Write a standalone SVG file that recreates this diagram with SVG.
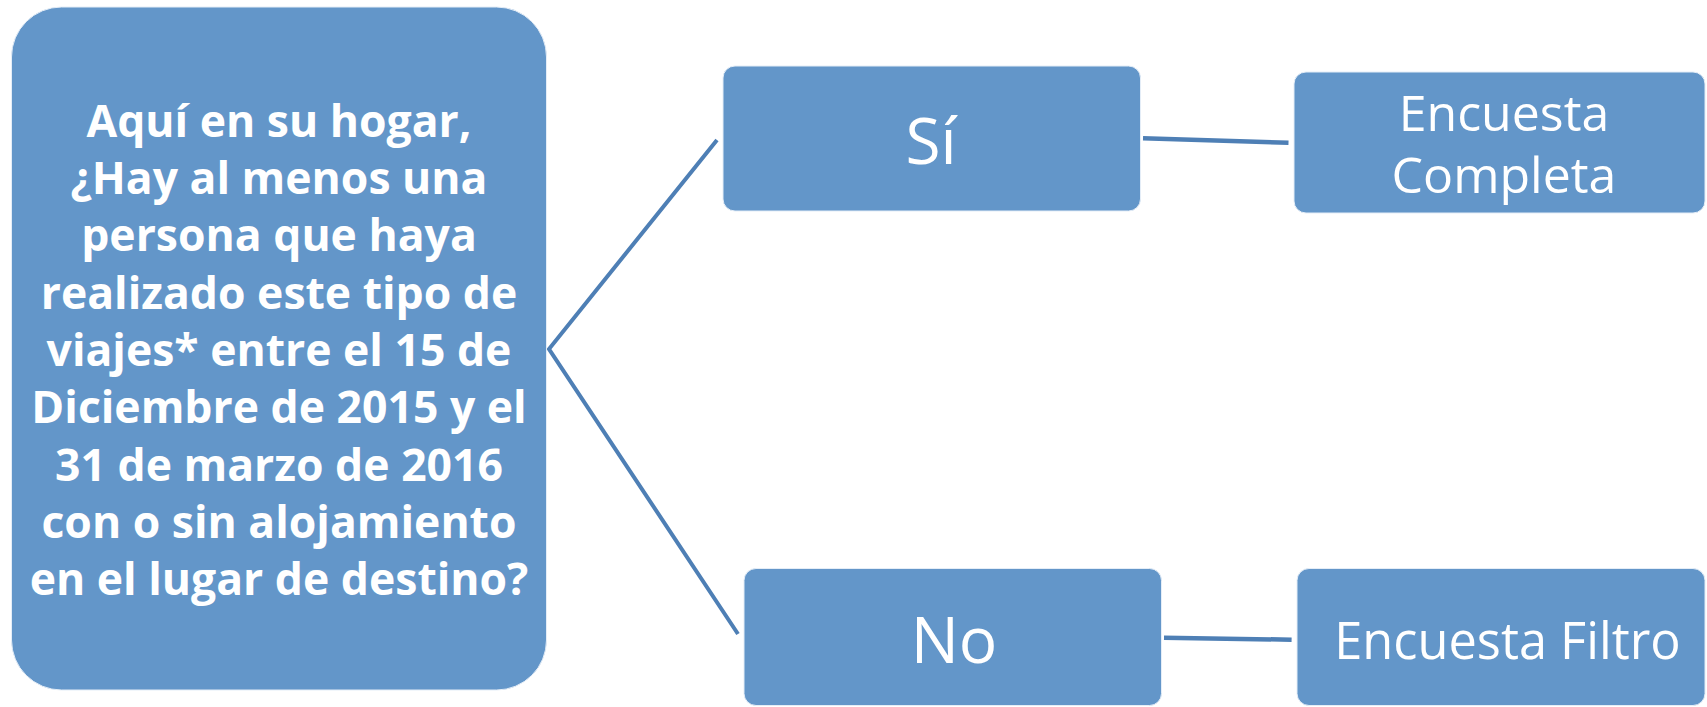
<svg xmlns="http://www.w3.org/2000/svg" width="1707" height="707" viewBox="0 0 1707 707">
<style>
.box{fill:#6396c9;stroke:#e4edf7;stroke-width:1}
.conn{fill:none;stroke:#4e7fb5;stroke-linecap:butt;stroke-linejoin:miter}
.q{font-family:"Open Sans","Noto Sans",sans-serif;font-weight:bold;font-size:44.5px;fill:#ffffff;text-anchor:middle}
.lbl{font-family:"Open Sans","Noto Sans",sans-serif;font-weight:normal;fill:#ffffff;text-anchor:middle}
</style>
<rect width="1707" height="707" fill="#ffffff"/>
<g id="connectors">
<polyline class="conn" stroke-width="4" points="717,140 549,349 738,634"/>
<line class="conn" stroke-width="4.5" x1="1143" y1="138.3" x2="1288.5" y2="142.7"/>
<line class="conn" stroke-width="4.5" x1="1164" y1="637.7" x2="1291.6" y2="639.7"/>
</g>
<g id="node-pregunta">
<rect class="box" x="11.5" y="7" width="535" height="683" rx="50" ry="50"/>
<text class="q" x="279" y="136.7">Aquí en su hogar,</text>
<text class="q" x="279" y="194">¿Hay al menos una</text>
<text class="q" x="279" y="251.3">persona que haya</text>
<text class="q" x="279" y="308.6">realizado este tipo de</text>
<text class="q" x="279" y="365.9">viajes* entre el 15 de</text>
<text class="q" x="279" y="423.2">Diciembre de 2015 y el</text>
<text class="q" x="279" y="480.5">31 de marzo de 2016</text>
<text class="q" x="279" y="537.8">con o sin alojamiento</text>
<text class="q" x="279" y="595.1">en el lugar de destino?</text>
</g>
<g id="node-si">
<rect class="box" x="723" y="66" width="417.5" height="145" rx="12" ry="12"/>
<text class="lbl" x="931" y="164" font-size="64">Sí</text>
</g>
<g id="node-no">
<rect class="box" x="744" y="568.5" width="417.5" height="137" rx="12" ry="12"/>
<text class="lbl" x="954" y="663.3" font-size="64">No</text>
</g>
<g id="node-completa">
<rect class="box" x="1294" y="72" width="411" height="141" rx="12" ry="12"/>
<text class="lbl" x="1504" y="130.7" font-size="50">Encuesta</text>
<text class="lbl" x="1504" y="192.7" font-size="50">Completa</text>
</g>
<g id="node-filtro">
<rect class="box" x="1297" y="568.5" width="408" height="137" rx="12" ry="12"/>
<text class="lbl" x="1507.5" y="659.3" font-size="50.5">Encuesta Filtro</text>
</g>
</svg>
